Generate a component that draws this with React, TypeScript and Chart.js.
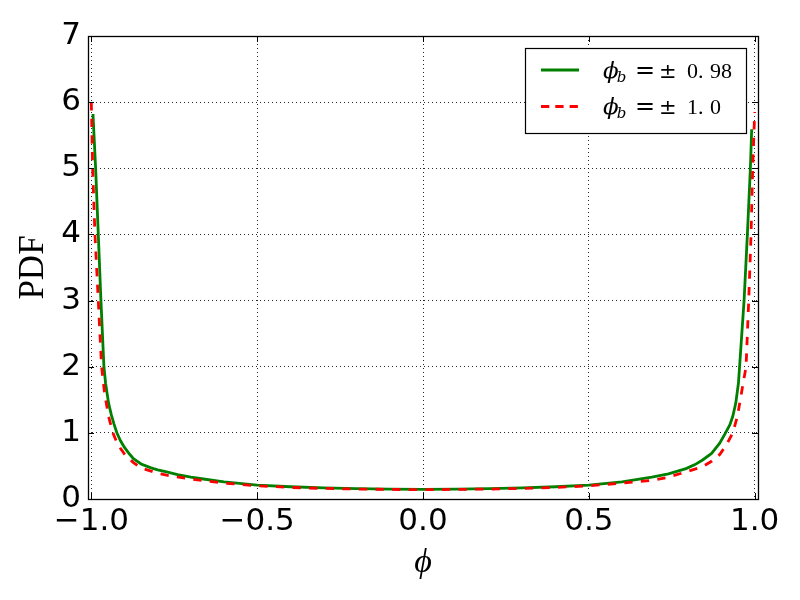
import React, { useEffect, useRef } from "react";
import { Chart, registerables } from "chart.js";

Chart.register(...registerables);

// phi_b = ±0.98 (green, solid)
const greenX = [-0.995, -0.987, -0.979, -0.971, -0.962, -0.957, -0.948, -0.94, -0.932, -0.923, -0.912, -0.9, -0.885, -0.873, -0.85, -0.82, -0.8, -0.773, -0.74, -0.7, -0.673, -0.6, -0.5, -0.4, -0.3, -0.2, -0.1, 0.0, 0.1, 0.2, 0.3, 0.4, 0.5, 0.6, 0.69, 0.74, 0.793, 0.82, 0.843, 0.87, 0.894, 0.91, 0.925, 0.934, 0.943, 0.951, 0.968, 0.978, 0.987, 0.991];
const greenY = [5.82, 5.0, 4.0, 3.0, 2.0, 1.75, 1.45, 1.28, 1.14, 1.0, 0.88, 0.78, 0.68, 0.61, 0.53, 0.47, 0.44, 0.41, 0.37, 0.33, 0.31, 0.26, 0.21, 0.185, 0.168, 0.157, 0.15, 0.147, 0.15, 0.157, 0.168, 0.185, 0.21, 0.26, 0.33, 0.38, 0.46, 0.52, 0.59, 0.69, 0.84, 0.98, 1.12, 1.25, 1.45, 1.75, 3.0, 4.0, 5.0, 5.59];

// phi_b = ±1.0 (red, dashed)
const redX = [-1.0, -0.996, -0.989, -0.979, -0.969, -0.96, -0.948, -0.935, -0.92, -0.9, -0.873, -0.85, -0.8, -0.773, -0.7, -0.6, -0.5, -0.4, -0.3, -0.2, -0.1, 0.0, 0.1, 0.2, 0.3, 0.4, 0.5, 0.6, 0.69, 0.74, 0.793, 0.843, 0.87, 0.894, 0.915, 0.934, 0.948, 0.96, 0.974, 0.982, 0.989, 0.994, 1.0];
const redY = [6.0, 5.0, 4.0, 3.0, 2.0, 1.6, 1.25, 1.0, 0.82, 0.68, 0.55, 0.47, 0.39, 0.36, 0.3, 0.24, 0.2, 0.175, 0.16, 0.15, 0.145, 0.14, 0.145, 0.15, 0.16, 0.175, 0.2, 0.24, 0.28, 0.33, 0.41, 0.49, 0.57, 0.67, 0.82, 1.0, 1.25, 1.6, 2.0, 3.0, 4.0, 5.0, 5.85];

const xTicks = [-1.0, -0.5, 0.0, 0.5, 1.0];
const xTickLabels = ["\u22121.0", "\u22120.5", "0.0", "0.5", "1.0"];
const yTicks = [0, 1, 2, 3, 4, 5, 6, 7];
const yTickLabels = ["0", "1", "2", "3", "4", "5", "6", "7"];
const xMin = -1.01;
const xMax = 1.01;
const yMin = 0;
const yMax = 7;
const seriesLabels = ["\u03d5b = \u00b1 0.98", "\u03d5b = \u00b1 1.0"];
const legendValues = [["0.", "98"], ["1.", "0"]];
const xTitle = "\u03d5";
const yTitle = "PDF";

const GREEN = "#008000";
const RED = "#ff0000";

const framePlugin = {
  id: "framePlugin",
  afterDraw(chart: any) {
    const { ctx, chartArea } = chart;
    const { left, right, top, bottom } = chartArea;
    const xs = chart.scales.x;
    const ys = chart.scales.y;
    ctx.save();
    ctx.strokeStyle = "#000";
    ctx.lineWidth = 1;
    ctx.setLineDash([]);
    // inward ticks
    const tl = 6;
    ctx.beginPath();
    xTicks.forEach((v) => {
      const px = Math.round(xs.getPixelForValue(v)) + 0.5;
      ctx.moveTo(px, bottom);
      ctx.lineTo(px, bottom - tl);
      ctx.moveTo(px, top);
      ctx.lineTo(px, top + tl);
    });
    yTicks.forEach((v) => {
      const py = Math.round(ys.getPixelForValue(v)) + 0.5;
      ctx.moveTo(left, py);
      ctx.lineTo(left + tl, py);
      ctx.moveTo(right, py);
      ctx.lineTo(right - tl, py);
    });
    ctx.stroke();
    // frame
    ctx.lineWidth = 1.3;
    ctx.strokeRect(Math.round(left) + 0.5, Math.round(top) + 0.5, Math.round(right - left), Math.round(bottom - top));

    // legend
    const bx = 525.5, by = 48.5, bw = 221, bh = 85;
    ctx.fillStyle = "#fff";
    ctx.fillRect(bx, by, bw, bh);
    ctx.lineWidth = 1.2;
    ctx.strokeRect(bx, by, bw, bh);

    const rows = [
      { y: 70, color: GREEN, dash: [] as number[], vals: legendValues[0] },
      { y: 106.5, color: RED, dash: [8.3, 6], vals: legendValues[1] },
    ];
    rows.forEach((r) => {
      ctx.beginPath();
      ctx.strokeStyle = r.color;
      ctx.lineWidth = 2.8;
      ctx.setLineDash(r.dash);
      ctx.moveTo(541, r.y);
      ctx.lineTo(579, r.y);
      ctx.stroke();
      ctx.setLineDash([]);
      ctx.fillStyle = "#000";
      ctx.textBaseline = "alphabetic";
      ctx.textAlign = "left";
      const base = r.y + 7.5;
      ctx.font = "italic 23px 'DejaVu Serif'";
      ctx.fillText("\u03d5", 603, base);
      const pw = ctx.measureText("\u03d5").width;
      ctx.font = "italic 15px 'DejaVu Serif'";
      ctx.fillText("b", 603 + pw - 2, base + 4);
      ctx.font = "24px 'DejaVu Sans'";
      ctx.fillText("=", 635, base);
      ctx.font = "21px 'DejaVu Sans'";
      ctx.fillText("\u00b1", 659, base);
      ctx.font = "22px 'Liberation Serif'";
      ctx.fillText(r.vals[0], 687, base);
      ctx.fillText(r.vals[1], 710, base);
    });
    ctx.restore();
  },
};

export default function App() {
  const ref = useRef<HTMLCanvasElement | null>(null);
  useEffect(() => {
    if (!ref.current) return;
    const chart = new Chart(ref.current, {
      type: "line",
      data: {
        datasets: [
          {
            label: seriesLabels[0],
            data: greenX.map((x, i) => ({ x, y: greenY[i] })),
            borderColor: GREEN,
            backgroundColor: GREEN,
            borderWidth: 2.8,
            pointRadius: 0,
            tension: 0,
            fill: false,
            order: 2,
          },
          {
            label: seriesLabels[1],
            data: redX.map((x, i) => ({ x, y: redY[i] })),
            borderColor: RED,
            backgroundColor: RED,
            borderWidth: 2.8,
            borderDash: [8.3, 8.3],
            pointRadius: 0,
            tension: 0,
            fill: false,
            order: 1,
          },
        ],
      },
      options: {
        animation: false,
        responsive: false,
        maintainAspectRatio: false,
        layout: { padding: { left: 0, top: 36, right: 42, bottom: 0 } },
        plugins: {
          legend: { display: false },
          tooltip: { enabled: false },
        },
        scales: {
          x: {
            type: "linear",
            min: xMin,
            max: xMax,
            afterFit: (s: any) => {
              s.height = 101;
            },
            afterBuildTicks: (s: any) => {
              s.ticks = xTicks.map((v) => ({ value: v }));
            },
            ticks: {
              color: "#000",
              font: { family: "'DejaVu Sans'", size: 31 },
              padding: 4,
              maxRotation: 0,
              autoSkip: false,
              callback: (v: any) => {
                const i = xTicks.findIndex((t) => Math.abs(t - Number(v)) < 1e-6);
                return i >= 0 ? xTickLabels[i] : "";
              },
            },
            grid: {
              color: "rgba(0,0,0,0.85)",
              lineWidth: 1,
              drawTicks: false,
              tickLength: 0,
            },
            border: { display: false, dash: [1, 3] },
            title: {
              display: true,
              text: xTitle,
              color: "#000",
              font: { family: "'Liberation Serif'", size: 34, style: "italic", lineHeight: 1 },
              padding: { top: 0, bottom: 20 },
            },
          },
          y: {
            type: "linear",
            min: yMin,
            max: yMax,
            afterFit: (s: any) => {
              s.width = 88;
            },
            afterBuildTicks: (s: any) => {
              s.ticks = yTicks.map((v) => ({ value: v }));
            },
            ticks: {
              color: "#000",
              font: { family: "'DejaVu Sans'", size: 31 },
              padding: 7,
              callback: (v: any) => {
                const i = yTicks.findIndex((t) => Math.abs(t - Number(v)) < 1e-6);
                return i >= 0 ? yTickLabels[i] : "";
              },
            },
            grid: {
              color: "rgba(0,0,0,0.85)",
              lineWidth: 1,
              drawTicks: false,
              tickLength: 0,
            },
            border: { display: false, dash: [1, 3] },
            title: {
              display: true,
              text: yTitle,
              color: "#000",
              font: { family: "'Liberation Serif'", size: 35, lineHeight: 1 },
              padding: { top: 16, bottom: 0 },
            },
          },
        },
      },
      plugins: [framePlugin],
    });
    return () => chart.destroy();
  }, []);
  return (
    <div style={{ position: "absolute", left: 0, top: 0, width: 800, height: 600, background: "#fff" }}>
      <canvas ref={ref} width={800} height={600} style={{ width: 800, height: 600 }} />
    </div>
  );
}
